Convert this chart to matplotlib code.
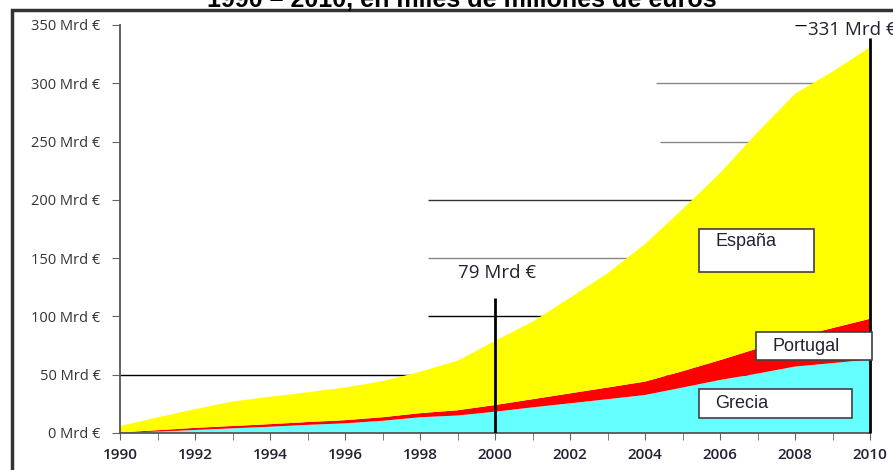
import matplotlib.pyplot as plt
import numpy as np
from matplotlib.patches import Rectangle

years = np.arange(1990, 2011)
grecia = [0.2, 1.2, 2.6, 4.0, 5.4, 7.0, 8.3, 10.5, 13.5, 15.0, 18.3,
          22.0, 25.5, 29.0, 32.6, 39.0, 45.5, 51.0, 57.0, 60.0, 63.0]
portugal = [0.3, 1.2, 1.8, 2.0, 2.2, 2.4, 2.7, 3.0, 3.5, 4.5, 5.7,
            7.0, 8.5, 10.0, 11.5, 14.0, 17.0, 21.5, 25.0, 30.0, 35.0]
espana = [5.5, 11.0, 16.0, 21.0, 23.5, 25.5, 28.0, 31.0, 35.5, 42.5, 55.0,
          66.5, 82.0, 98.0, 118.0, 139.0, 160.5, 185.5, 209.0, 220.0, 233.0]
series_names = ['Grecia', 'Portugal', 'España']
yticks = [0, 50, 100, 150, 200, 250, 300, 350]
ytick_labels = ['%d Mrd €' % v for v in yticks]
xticks = list(range(1990, 2011, 2))
title = '1990 – 2010, en miles de millones de euros'

fig = plt.figure(figsize=(8.93, 4.70), dpi=100)
ax = fig.add_axes([120 / 893, 37 / 470, 750 / 893, 408 / 470])

# gridlines, only partly visible in the original
for y, x0, x1, c in [(50, 1990, 2010, 'black'), (100, 1998.2, 2010, 'black'),
                     (150, 1998.2, 2010, '#888888'), (200, 1998.2, 2010, '#333333'),
                     (250, 2004.4, 2010, '#888888'), (300, 2004.3, 2010, '#888888'),
                     (350, 2008.0, 2008.3, 'black')]:
    ax.hlines(y, x0, x1, color=c, lw=1.0, zorder=1)

ax.stackplot(years, grecia, portugal, espana,
             colors=['#66FFFF', '#FF0000', '#FFFF00'], linewidth=0, zorder=2)

total = np.array(grecia) + np.array(portugal) + np.array(espana)
ax.vlines(2000, 0, 116, color='black', lw=2, zorder=4)
ax.vlines(2010, 0, 339, color='black', lw=2, zorder=4, clip_on=False)
ax.text(1999.0, 137, '%d Mrd €' % round(total[10]), fontsize=13.5,
        family='Open Sans', color='#202030', va='center')
ax.text(2008.35, 346, '%d Mrd €' % round(total[-1]), fontsize=13.5,
        family='Open Sans', color='#202030', va='center', clip_on=False)

# label boxes
boxes = [('España', 2005.44, 138.1, 3.07, 36.9, 2005.87, 163.9),
         ('Portugal', 2006.95, 62.6, 3.1, 24.3, 2007.41, 74.6),
         ('Grecia', 2005.44, 12.9, 4.08, 24.8, 2005.87, 24.9)]
for name, bx, by, bw, bh, tx, ty in boxes:
    ax.add_patch(Rectangle((bx, by), bw, bh, facecolor='white',
                           edgecolor='#404040', lw=1.2, zorder=5, clip_on=False))
    ax.text(tx, ty, name, fontsize=13, family='Liberation Sans',
            color='#222233', va='center', zorder=6)

ax.set_xlim(1990, 2010)
ax.set_ylim(0, 350)
ax.set_yticks(yticks)
ax.set_yticklabels(ytick_labels, family='Open Sans', fontsize=10.5, color='#333333')
ax.set_xticks(xticks)
ax.set_xticks(years, minor=True)
ax.set_xticklabels([str(x) for x in xticks], family='Open Sans', fontsize=11,
                   fontweight='semibold', color='#222233')
ax.tick_params(axis='y', length=6, pad=8, color='#666666')
ax.tick_params(axis='x', which='both', length=5, pad=6, color='#666666')
for s in ['top', 'right']:
    ax.spines[s].set_visible(False)
for s in ['left', 'bottom']:
    ax.spines[s].set_color('#555555')
    ax.spines[s].set_linewidth(1.3)

# outer frame and cut-off title
fig.add_artist(Rectangle((11.5 / 893, -0.1), 1.1, 1.1 - 10.5 / 470,
                         transform=fig.transFigure, fill=False,
                         edgecolor='#333333', lw=2.5, clip_on=False))
fig.text(462 / 893, 1 - 7 / 470, title, ha='center', va='baseline',
         fontsize=18, fontweight='bold', family='Liberation Sans')

fig.savefig('out.png', dpi=100)
